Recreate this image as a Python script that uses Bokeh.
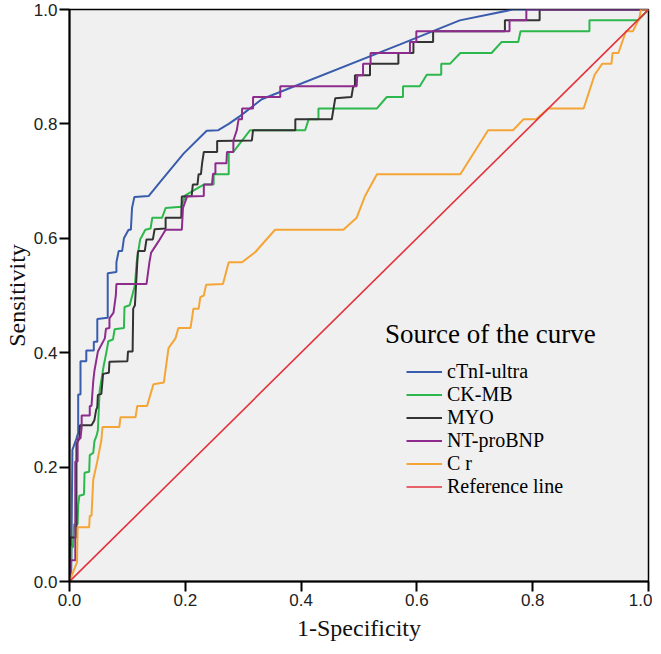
from bokeh.plotting import figure
from bokeh.models import Legend, LegendItem, Label, FixedTicker, Range1d, PrintfTickFormatter
from bokeh.embed import file_html
from bokeh.resources import INLINE

# ---- data (1-Specificity, Sensitivity) ----
ctni_x = [0, 0.003, 0.005, 0.012, 0.015, 0.015, 0.019, 0.019, 0.029, 0.029, 0.042, 0.042, 0.048, 0.048,
          0.066, 0.066, 0.081, 0.081, 0.085, 0.091, 0.094, 0.102, 0.106, 0.108, 0.112, 0.137, 0.157,
          0.197, 0.237, 0.257, 0.275, 0.295, 0.332, 0.571, 0.674, 0.766, 1.0]
ctni_y = [0, 0.02, 0.23, 0.25, 0.26, 0.327, 0.327, 0.385, 0.385, 0.404, 0.404, 0.419, 0.419, 0.459,
          0.461, 0.539, 0.541, 0.558, 0.578, 0.578, 0.60, 0.615, 0.615, 0.653, 0.672, 0.674, 0.699,
          0.748, 0.788, 0.789, 0.800, 0.814, 0.843, 0.939, 0.981, 1.0, 1.0]

ckmb_x = [0, 0.003, 0.003, 0.006, 0.008, 0.014, 0.015, 0.017, 0.025, 0.026, 0.034, 0.035, 0.041, 0.043,
          0.047, 0.049, 0.052, 0.059, 0.064, 0.067, 0.075, 0.078, 0.094, 0.095, 0.104, 0.113, 0.116,
          0.122, 0.131, 0.140, 0.143, 0.160, 0.166, 0.193, 0.200, 0.225, 0.232, 0.249, 0.249, 0.275,
          0.275, 0.283, 0.312, 0.407, 0.413, 0.430, 0.430, 0.531, 0.548, 0.576, 0.576, 0.605, 0.617,
          0.642, 0.642, 0.657, 0.675, 0.729, 0.746, 0.775, 0.779, 0.898, 0.898, 0.982, 1.0]
ckmb_y = [0, 0.04, 0.06, 0.06, 0.10, 0.10, 0.133, 0.15, 0.152, 0.19, 0.192, 0.221, 0.225, 0.245,
          0.256, 0.264, 0.333, 0.377, 0.402, 0.420, 0.423, 0.441, 0.443, 0.480, 0.483, 0.518, 0.558,
          0.598, 0.615, 0.617, 0.636, 0.636, 0.653, 0.655, 0.675, 0.690, 0.694, 0.694, 0.712, 0.712,
          0.751, 0.751, 0.789, 0.789, 0.808, 0.808, 0.827, 0.827, 0.847, 0.847, 0.866, 0.866, 0.886,
          0.886, 0.905, 0.905, 0.924, 0.924, 0.943, 0.943, 0.962, 0.962, 0.981, 0.981, 1.0]

myo_x = [0, 0.001, 0.012, 0.012, 0.017, 0.018, 0.038, 0.043, 0.046, 0.048, 0.049, 0.055, 0.058, 0.068,
         0.069, 0.100, 0.101, 0.109, 0.110, 0.113, 0.118, 0.119, 0.130, 0.133, 0.144, 0.147, 0.166,
         0.166, 0.193, 0.194, 0.211, 0.213, 0.221, 0.223, 0.227, 0.229, 0.232, 0.255, 0.255, 0.315,
         0.317, 0.390, 0.390, 0.453, 0.459, 0.487, 0.490, 0.493, 0.493, 0.519, 0.519, 0.568, 0.568,
         0.594, 0.594, 0.628, 0.628, 0.752, 0.752, 0.812, 0.812, 1.0]
myo_y = [0, 0.077, 0.077, 0.24, 0.25, 0.273, 0.273, 0.282, 0.30, 0.305, 0.326, 0.328, 0.363, 0.365,
         0.384, 0.385, 0.402, 0.402, 0.477, 0.483, 0.575, 0.578, 0.578, 0.598, 0.598, 0.616, 0.617,
         0.636, 0.636, 0.673, 0.674, 0.694, 0.694, 0.712, 0.712, 0.731, 0.751, 0.751, 0.770, 0.771,
         0.789, 0.789, 0.808, 0.808, 0.845, 0.847, 0.866, 0.866, 0.885, 0.885, 0.905, 0.905, 0.924,
         0.924, 0.943, 0.943, 0.962, 0.962, 0.981, 0.981, 1.0, 1.0]

bnp_x = [0, 0.002, 0.010, 0.010, 0.014, 0.014, 0.019, 0.021, 0.021, 0.035, 0.035, 0.038, 0.041, 0.043,
         0.049, 0.061, 0.063, 0.069, 0.069, 0.076, 0.080, 0.081, 0.133, 0.138, 0.141, 0.143, 0.154,
         0.166, 0.194, 0.196, 0.203, 0.232, 0.232, 0.246, 0.248, 0.252, 0.252, 0.271, 0.272, 0.283,
         0.283, 0.289, 0.292, 0.298, 0.298, 0.317, 0.317, 0.364, 0.364, 0.496, 0.497, 0.507, 0.507,
         0.520, 0.520, 0.588, 0.588, 0.599, 0.599, 0.760, 0.760, 0.789, 0.789, 1.0]
bnp_y = [0, 0.037, 0.037, 0.21, 0.21, 0.25, 0.25, 0.27, 0.29, 0.29, 0.307, 0.307, 0.35, 0.368,
         0.402, 0.425, 0.442, 0.443, 0.460, 0.47, 0.500, 0.520, 0.520, 0.558, 0.575, 0.578, 0.595,
         0.615, 0.615, 0.653, 0.673, 0.674, 0.694, 0.694, 0.713, 0.713, 0.731, 0.731, 0.751, 0.751,
         0.771, 0.789, 0.808, 0.808, 0.827, 0.827, 0.847, 0.847, 0.866, 0.866, 0.885, 0.885, 0.905,
         0.905, 0.924, 0.924, 0.943, 0.943, 0.962, 0.962, 0.981, 0.981, 1.0, 1.0]

cr_x = [0, 0.013, 0.014, 0.034, 0.035, 0.038, 0.041, 0.048, 0.055, 0.057, 0.086, 0.088, 0.114, 0.117,
        0.134, 0.145, 0.163, 0.171, 0.183, 0.188, 0.209, 0.214, 0.223, 0.226, 0.232, 0.236, 0.265,
        0.275, 0.298, 0.321, 0.355, 0.473, 0.496, 0.510, 0.531, 0.675, 0.723, 0.766, 0.784, 0.806,
        0.827, 0.888, 0.907, 0.920, 0.936, 0.938, 0.948, 0.961, 0.973, 0.984, 0.987, 1.0]
cr_y = [0, 0.034, 0.095, 0.095, 0.115, 0.115, 0.178, 0.21, 0.247, 0.270, 0.270, 0.287, 0.287, 0.307,
        0.307, 0.345, 0.348, 0.408, 0.425, 0.443, 0.443, 0.477, 0.477, 0.497, 0.500, 0.519, 0.520,
        0.558, 0.558, 0.576, 0.615, 0.615, 0.636, 0.673, 0.712, 0.712, 0.789, 0.789, 0.808, 0.808,
        0.827, 0.827, 0.886, 0.905, 0.905, 0.924, 0.924, 0.962, 0.962, 0.984, 1.0, 1.0]

ref_x = [0, 1]
ref_y = [0, 1]

series_names = ["cTnI-ultra", "CK-MB", "MYO", "NT-proBNP", "C r", "Reference line"]
series_colors = ["#3A5CAD", "#2DB84D", "#333333", "#8E2C8E", "#F5A535", "#E3323D"]
series_x = [ctni_x, ckmb_x, myo_x, bnp_x, cr_x, ref_x]
series_y = [ctni_y, ckmb_y, myo_y, bnp_y, cr_y, ref_y]
series_widths = [2, 2, 2, 2, 2, 1.6]

ticks = [0.0, 0.2, 0.4, 0.6, 0.8, 1.0]

p = figure(width=652, height=644, x_range=Range1d(0, 1), y_range=Range1d(0, 1),
           output_backend="svg", toolbar_location=None,
           min_border_left=61, min_border_right=4, min_border_top=9, min_border_bottom=63)
p.background_fill_color = "#F0F0F0"
p.border_fill_color = "white"
p.grid.visible = False
p.outline_line_color = "black"
p.outline_line_width = 1.5

for ax in (p.xaxis[0], p.yaxis[0]):
    ax.ticker = FixedTicker(ticks=ticks)
    ax.formatter = PrintfTickFormatter(format="%.1f")
    ax.axis_line_width = 2
    ax.axis_line_color = "black"
    ax.major_tick_out = 10
    ax.major_tick_in = 0
    ax.major_tick_line_width = 2
    ax.minor_tick_line_color = None
    ax.major_label_text_font = "Liberation Sans"
    ax.major_label_text_font_size = "17px"
    ax.major_label_text_color = "#222222"
    ax.major_label_standoff = 2
    ax.axis_label_text_font = "Liberation Serif"
    ax.axis_label_text_font_size = "24px"
    ax.axis_label_text_font_style = "normal"
    ax.axis_label_text_color = "#111111"

p.xaxis.axis_label = "1-Specificity"
p.xaxis.axis_label_standoff = 6
p.yaxis.axis_label = "Sensitivity"
p.yaxis.axis_label_standoff = 1

items = []
for name, col, xs, ys, w in zip(series_names, series_colors, series_x, series_y, series_widths):
    r = p.line(xs, ys, line_color=col, line_width=w)
    items.append(LegendItem(label=name, renderers=[r]))

legend = Legend(items=items, location=(337, 83), background_fill_alpha=0, border_line_alpha=0,
                padding=0, margin=0, spacing=0, glyph_width=36, glyph_height=23, label_height=23,
                label_standoff=5, label_text_font="Liberation Serif", label_text_font_size="20px",
                label_text_color="black")
p.add_layout(legend)

title = Label(x=0.545, y=0.432, text="Source of the curve", text_font="Liberation Serif",
              text_font_size="27px", text_baseline="middle", text_color="black")
p.add_layout(title)

open("out.html", "w").write(file_html(p, INLINE))
